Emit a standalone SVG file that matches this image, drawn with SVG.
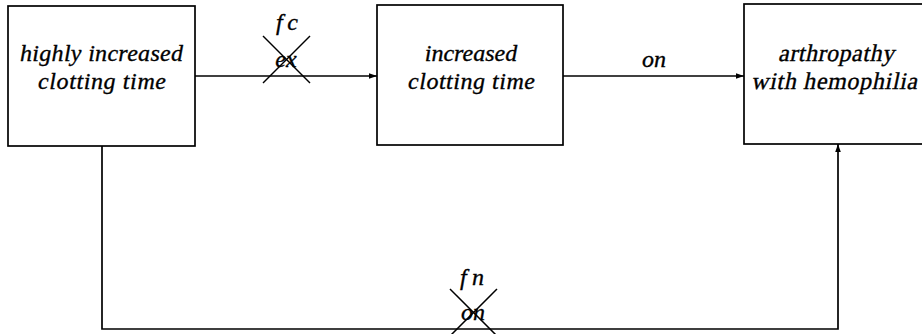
<svg xmlns="http://www.w3.org/2000/svg" width="922" height="334" viewBox="0 0 922 334">
  <defs>
    <marker id="arr" viewBox="0 0 10 10" refX="10" refY="5" markerWidth="8" markerHeight="8" markerUnits="userSpaceOnUse" orient="auto">
      <path d="M0,1.5 L10,5 L0,8.5 Z" fill="#000"/>
    </marker>
    <style>
      rect.box { fill: #fff; stroke: #000; stroke-width: 1.7; }
      .edge { fill: none; stroke: #000; stroke-width: 1.7; }
      .cross { stroke: #000; stroke-width: 1.5; }
      text { font-family: "Liberation Serif", "Times New Roman", serif; font-size: 24px; fill: #000; stroke: #000; stroke-width: 0.35; text-anchor: middle; }
      .it { font-style: italic; }
    </style>
  </defs>
  <rect width="922" height="334" fill="#fff"/>

  <g id="connectors">
    <line class="edge" x1="195" y1="76" x2="377" y2="76" marker-end="url(#arr)"/>
    <line class="edge" x1="563" y1="76" x2="744" y2="76" marker-end="url(#arr)"/>
    <path class="edge" d="M102,146 V329 H838 V144" marker-end="url(#arr)"/>
    <g id="label-fc-ex">
      <text class="it" x="287" y="30" textLength="22" lengthAdjust="spacing">fc</text>
      <text class="it" x="286" y="67">ex</text>
      <line class="cross" x1="263" y1="36" x2="310" y2="83"/>
      <line class="cross" x1="310" y1="36" x2="263" y2="83"/>
    </g>
    <g id="label-on">
      <text class="it" x="654" y="67">on</text>
    </g>
    <g id="label-fn-on">
      <text class="it" x="472" y="285" textLength="24" lengthAdjust="spacing">fn</text>
      <text class="it" x="473" y="320">on</text>
      <line class="cross" x1="450" y1="289" x2="497" y2="336"/>
      <line class="cross" x1="497" y1="289" x2="450" y2="336"/>
    </g>
  </g>

  <g id="node-highly">
    <rect class="box" x="8" y="6" width="187" height="140"/>
    <text class="it" x="101.5" y="61" textLength="163" lengthAdjust="spacing">highly increased</text>
    <text class="it" x="102" y="89" textLength="128" lengthAdjust="spacing">clotting time</text>
  </g>

  <g id="node-increased">
    <rect class="box" x="377" y="5" width="186" height="140"/>
    <text class="it" x="471" y="61">increased</text>
    <text class="it" x="471.5" y="89" textLength="127" lengthAdjust="spacing">clotting time</text>
  </g>

  <g id="node-arthropathy">
    <rect class="box" x="744" y="4" width="190" height="140"/>
    <g transform="translate(836,61) skewX(-12)">
      <text x="0" y="0" textLength="116" lengthAdjust="spacing">arthropathy</text>
    </g>
    <g transform="translate(834,89) skewX(-12)">
      <text x="0" y="0" textLength="166" lengthAdjust="spacing">with hemophilia</text>
    </g>
  </g>
</svg>
